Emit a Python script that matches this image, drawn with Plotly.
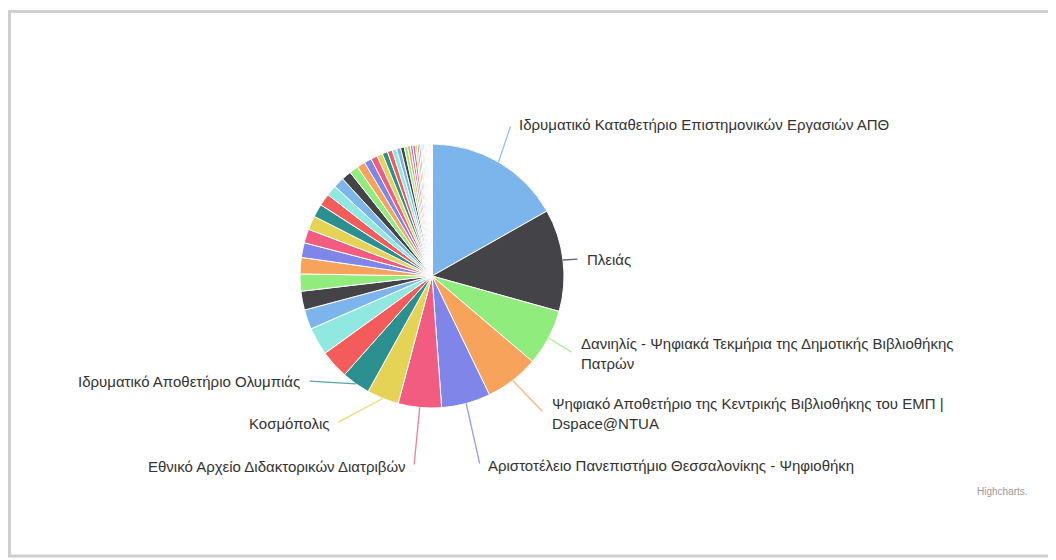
import math
import plotly.graph_objects as go

# ---- data (shares, %) ----
labels = [
    "Ιδρυματικό Καταθετήριο Επιστημονικών Εργασιών ΑΠΘ",
    "Πλειάς",
    "Δανιηλίς - Ψηφιακά Τεκμήρια της Δημοτικής Βιβλιοθήκης Πατρών",
    "Ψηφιακό Αποθετήριο της Κεντρικής Βιβλιοθήκης του ΕΜΠ | Dspace@NTUA",
    "Αριστοτέλειο Πανεπιστήμιο Θεσσαλονίκης - Ψηφιοθήκη",
    "Εθνικό Αρχείο Διδακτορικών Διατριβών",
    "Κοσμόπολις",
    "Ιδρυματικό Αποθετήριο Ολυμπιάς",
]
main_values = [16.8, 12.5, 6.9, 6.6, 6.0, 5.3, 3.9, 3.5]
other_values = [3.5, 3.4, 2.4, 2.3, 2.1, 2.0, 1.8, 1.7, 1.7, 1.6, 1.5, 1.3, 1.3,
                1.2, 1.1, 1.0, 0.9, 0.8, 0.7, 0.65, 0.6, 0.55, 0.5, 0.45, 0.4,
                0.35, 0.3, 0.3, 0.25, 0.2, 0.2, 0.15, 0.15, 0.12, 0.1, 0.1, 0.1,
                0.08, 0.08, 0.07, 0.06, 0.05, 0.05, 0.05, 0.04, 0.04, 0.03, 0.03,
                0.02, 0.02, 0.02, 0.01, 0.01]
label_text = [
    "Ιδρυματικό Καταθετήριο Επιστημονικών Εργασιών ΑΠΘ",
    "Πλειάς",
    "Δανιηλίς - Ψηφιακά Τεκμήρια της Δημοτικής Βιβλιοθήκης<br>Πατρών",
    "Ψηφιακό Αποθετήριο της Κεντρικής Βιβλιοθήκης του ΕΜΠ |<br>Dspace@NTUA",
    "Αριστοτέλειο Πανεπιστήμιο Θεσσαλονίκης - Ψηφιοθήκη",
    "Εθνικό Αρχείο Διδακτορικών Διατριβών",
    "Κοσμόπολις",
    "Ιδρυματικό Αποθετήριο Ολυμπιάς",
]

# ---- styling / layout ----
OFF = 8                      # page body margin
W, H = 1056 - OFF, 560 - OFF  # figure size
palette = ["#7cb5ec", "#434348", "#90ed7d", "#f7a35c", "#8085e9",
           "#f15c80", "#e4d354", "#2b908f", "#f45b5b", "#91e8e1"]
CX, CY, R = 432, 276, 132  # pie centre / radius in page pixels
# label text anchor positions (page pixels) and anchors
label_pos = [(517, 125, "left"), (585, 259, "left"), (579, 353, "left"),
             (550, 413, "left"), (486, 465, "left"), (408, 466, "right"),
             (331, 423, "right"), (302, 381, "right")]


def px2paper(x, y):
    return (x - OFF) / W, 1 - (y - OFF) / H


values = main_values + other_values
all_labels = labels + [f"Αποθετήριο {i + 9}" for i in range(len(other_values))]
colors = [palette[i % len(palette)] for i in range(len(values))]

x0, y1 = px2paper(CX - R, CY - R)
x1, y0 = px2paper(CX + R, CY + R)
fig = go.Figure()
fig.add_trace(go.Pie(
    labels=all_labels, values=values, sort=False, direction="clockwise",
    rotation=0, textinfo="none", hoverinfo="label+percent",
    marker=dict(colors=colors, line=dict(color="white", width=1)),
    domain=dict(x=[x0, x1], y=[y0, y1]),
    showlegend=False,
))

total = sum(values)
cum = 0.0
annotations = []
font_family = "Liberation Sans Narrow, Arial Narrow, Liberation Sans, sans-serif"
for i, v in enumerate(main_values):
    mid = (cum + v / 2) / total * 2 * math.pi
    cum += v
    px = CX + R * math.sin(mid)
    py = CY - R * math.cos(mid)
    tx, ty, anchor = label_pos[i]
    hx, hy = px2paper(px, py)
    annotations.append(dict(
        x=hx, y=hy, xref="paper", yref="paper",
        ax=tx - px + (-6 if anchor == "left" else 6), ay=ty - py,
        axref="pixel", ayref="pixel",
        text="", showarrow=True, arrowhead=0, arrowwidth=1.3,
        arrowcolor=colors[i], opacity=0.8, standoff=0, startstandoff=0,
    ))
    lx, ly = px2paper(tx, ty)
    annotations.append(dict(
        x=lx, y=ly, xref="paper", yref="paper",
        text=label_text[i], showarrow=False, xanchor=anchor, yanchor="middle",
        align="left", font=dict(family=font_family, size=15, color="#333333"),
    ))

cx_, cy_ = px2paper(1030, 491)
annotations.append(dict(
    x=cx_, y=cy_, xref="paper", yref="paper", text="Highcharts.",
    showarrow=False, xanchor="right", yanchor="middle",
    font=dict(family=font_family, size=10, color="#999999"),
))

# card frame: left, top and bottom edges (right edge is off-page)
fx0 = 9.5 - OFF
fy_top = 11.5 - OFF
fy_bot = 556 - OFF
frame_path = f"M {W + 20},{fy_top} L {fx0},{fy_top} L {fx0},{fy_bot} L {W + 20},{fy_bot}"
fig.update_layout(
    width=W, height=H, margin=dict(l=0, r=0, t=0, b=0),
    paper_bgcolor="white", plot_bgcolor="white",
    annotations=annotations,
    xaxis=dict(visible=False, range=[0, W], fixedrange=True),
    yaxis=dict(visible=False, range=[H, 0], fixedrange=True),
    shapes=[dict(type="path", xref="x", yref="y", path=frame_path,
                 line=dict(color="#cfcfcf", width=3), layer="below")],
)

fig.write_html("out.html")
